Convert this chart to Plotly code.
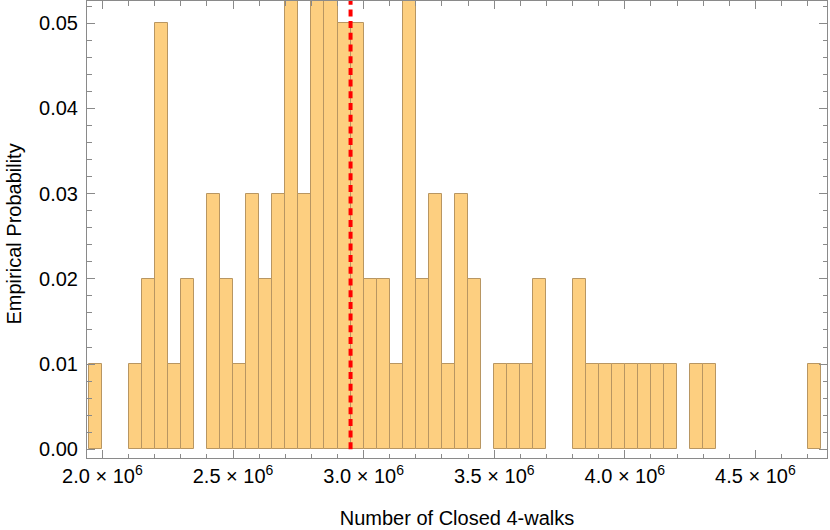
import plotly.graph_objects as go

# ---- data ----
bin_width = 50000
bin_left = [1950000 + 50000 * i for i in range(56)]  # 1.95e6 ... 4.70e6
probability = [
    0.01,                    # 1.95
    0.00, 0.00,              # 2.00, 2.05
    0.01, 0.02, 0.05, 0.01, 0.02,   # 2.10 - 2.30
    0.00,                    # 2.35
    0.03, 0.02, 0.01, 0.03, 0.02, 0.03,  # 2.40 - 2.65
    0.07, 0.03, 0.07, 0.07,  # 2.70 - 2.85
    0.05, 0.05,              # 2.90, 2.95
    0.02, 0.02, 0.01,        # 3.00 - 3.10
    0.07,                    # 3.15
    0.02, 0.03, 0.01, 0.03, 0.02,  # 3.20 - 3.40
    0.00,                    # 3.45
    0.01, 0.01, 0.01, 0.02,  # 3.50 - 3.65
    0.00, 0.00,              # 3.70, 3.75
    0.02, 0.01, 0.01, 0.01, 0.01, 0.01, 0.01, 0.01,  # 3.80 - 4.15
    0.00,                    # 4.20
    0.01, 0.01,              # 4.25, 4.30
    0.00, 0.00, 0.00, 0.00, 0.00, 0.00, 0.00,  # 4.35 - 4.65
    0.01,                    # 4.70
]
reference_value = 2950000

x_tick_vals = [2000000, 2500000, 3000000, 3500000, 4000000, 4500000]
x_tick_text = ["2.0 × 10<sup>6</sup>", "2.5 × 10<sup>6</sup>", "3.0 × 10<sup>6</sup>",
               "3.5 × 10<sup>6</sup>", "4.0 × 10<sup>6</sup>", "4.5 × 10<sup>6</sup>"]
y_tick_vals = [0.0, 0.01, 0.02, 0.03, 0.04, 0.05]
y_tick_text = ["0.00", "0.01", "0.02", "0.03", "0.04", "0.05"]

x_title = "Number of Closed 4-walks"
y_title = "Empirical Probability"

# ---- figure ----
xs = [b + bin_width / 2 for b, p in zip(bin_left, probability) if p > 0]
ys = [p for p in probability if p > 0]

FRAME = "#8a8a8a"
FONT = "Liberation Sans, Arial, sans-serif"

fig = go.Figure()
fig.add_trace(go.Bar(
    x=xs, y=ys, width=bin_width,
    marker=dict(color="rgb(253,207,128)",
                line=dict(color="rgb(184,150,98)", width=1)),
    showlegend=False,
))

fig.add_shape(type="line", xref="x", yref="y",
              x0=reference_value, x1=reference_value, y0=0, y1=0.0526,
              line=dict(color="#ff0000", width=4, dash="7px,4.7px"))

fig.add_annotation(text=y_title, xref="paper", yref="paper", x=0, y=0.5,
                   xshift=-74, yshift=-5, xanchor="center", yanchor="middle",
                   textangle=-90, showarrow=False,
                   font=dict(family=FONT, size=20, color="black"))

fig.update_layout(
    width=830, height=530,
    margin=dict(l=87, r=3, t=1, b=72),
    paper_bgcolor="white", plot_bgcolor="white",
    bargap=0,
    font=dict(family=FONT, size=20, color="black"),
)
fig.update_xaxes(
    range=[1941000, 4774000],
    tickmode="array", tickvals=x_tick_vals, ticktext=x_tick_text,
    ticks="inside", ticklen=8, tickwidth=1, tickcolor=FRAME,
    minor=dict(tickmode="linear", tick0=0, dtick=100000, ticks="inside",
               ticklen=4.5, tickwidth=1, tickcolor=FRAME),
    showline=True, linecolor=FRAME, linewidth=1, mirror="allticks",
    showgrid=False, zeroline=False,
    tickfont=dict(size=20),
    title=dict(text=x_title, font=dict(size=20), standoff=24),
    automargin=False,
)
fig.update_yaxes(
    range=[-0.00102, 0.0526],
    tickmode="array", tickvals=y_tick_vals, ticktext=y_tick_text,
    ticks="inside", ticklen=8, tickwidth=1, tickcolor=FRAME,
    minor=dict(tickmode="linear", tick0=0, dtick=0.002, ticks="inside",
               ticklen=4.5, tickwidth=1, tickcolor=FRAME),
    showline=True, linecolor=FRAME, linewidth=1, mirror="allticks",
    showgrid=False, zeroline=False,
    tickfont=dict(size=20),
    ticklabelstandoff=4,
    automargin=False,
)

fig.write_html("out.html", config={"displayModeBar": False},
               post_script="document.body.style.margin='0px';")
